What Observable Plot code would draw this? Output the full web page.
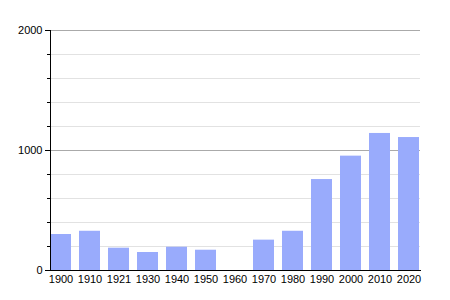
<!DOCTYPE html>
<html><head><meta charset="utf-8">
<script src="https://cdn.jsdelivr.net/npm/d3@7"></script>
<script src="https://cdn.jsdelivr.net/npm/@observablehq/plot@0.6"></script>
<style>body{margin:0;background:#fff}</style>
</head><body><div id="chart"></div>
<script>
const years = ["1900","1910","1921","1930","1940","1950","1960","1970","1980","1990","2000","2010","2020"];
const population = [300, 327, 186, 150, 194, 169, null, 253, 327, 758, 953, 1142, 1108];
const majorTicks = [0, 1000, 2000];
const minorTicks = [200, 400, 600, 800, 1200, 1400, 1600, 1800];

const data = years.map((y, i) => ({year: y, value: population[i]})).filter(d => d.value != null);

const chart = Plot.plot({
  width: 450, height: 300,
  marginLeft: 50, marginRight: 30, marginTop: 30, marginBottom: 30,
  style: {fontFamily: "Liberation Sans, Arial, sans-serif", fontSize: "11px", background: "#fff", color: "#000"},
  x: {domain: years, paddingInner: 0.27, paddingOuter: 0, label: null},
  y: {domain: [0, 2000], label: null},
  marks: [
    Plot.ruleY(minorTicks, {stroke: "#e2e2e2"}),
    Plot.ruleY([1000, 2000], {stroke: "#aaaaaa"}),
    Plot.barY(data, {x: "year", y: "value", fill: "#99abfc"}),
    Plot.axisY({ticks: minorTicks, tickSize: 3, text: null, stroke: "#000"}),
    Plot.axisY({ticks: majorTicks, tickSize: 5, tickPadding: 3, tickFormat: d3.format("d"), stroke: "#000", fill: "#000", fontSize: 11}),
    Plot.axisX({tickSize: 0, tickPadding: 5, fill: "#000", fontSize: 11}),
    Plot.frame({anchor: "left", stroke: "#000"}),
    Plot.frame({anchor: "bottom", stroke: "#000"})
  ]
});
document.getElementById("chart").appendChild(chart);
</script>
</body></html>
